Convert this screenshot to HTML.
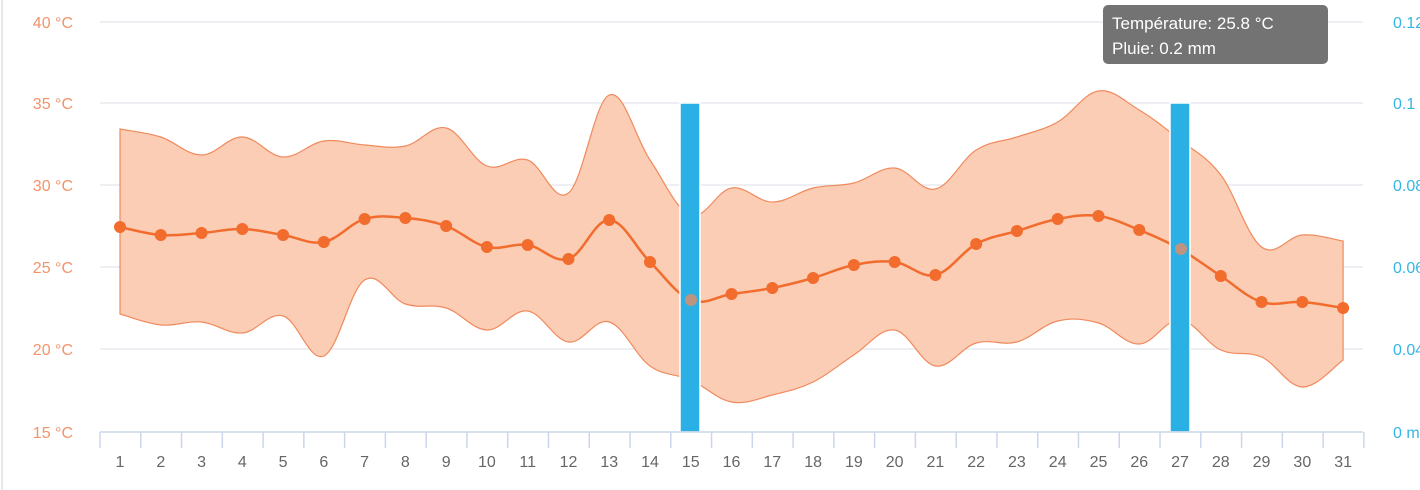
<!DOCTYPE html>
<html><head><meta charset="utf-8"><style>
html,body{margin:0;padding:0;background:#fff;width:1420px;height:490px;overflow:hidden;font-family:"Liberation Sans",sans-serif}
</style></head><body>
<svg id="s" width="1420" height="490" xmlns="http://www.w3.org/2000/svg" style="position:absolute;left:0;top:0">
<line x1="2" y1="0" x2="2" y2="490" stroke="#e6e8ec" stroke-width="2"/>
<g id="grid" stroke="#e8eaef" stroke-width="1.5"></g>
<path id="band" fill="#fbcdb5" stroke="#f08a5d" stroke-width="1.2"/>
<path id="mean" fill="none" stroke="#f26c2e" stroke-width="2.5"/>
<g id="dots" fill="#f26c2e"></g>
<rect x="680" y="103" width="20" height="329" fill="#2ab0e4" stroke="#fff" stroke-width="1.5"/>
<rect x="1170" y="103" width="20" height="329" fill="#2ab0e4" stroke="#fff" stroke-width="1.5"/>
<circle cx="691" cy="300" r="6" fill="#f08a5d" opacity="0.75"/>
<circle cx="1181" cy="249" r="6" fill="#f08a5d" opacity="0.75"/>
<g id="axis" stroke="#ccd6eb" stroke-width="1.5"></g>
<g id="lbl" font-size="16" fill="#666" text-anchor="middle"></g>
<g id="yl" font-size="16" fill="#f3936a" text-anchor="end"></g>
<g id="yr" font-size="16" fill="#35b5e5"></g>
<rect x="1103" y="5" width="225" height="59" rx="5" fill="#737373"/>
<text x="1112" y="29" font-size="17" fill="#fff">Température: 25.8 °C</text>
<text x="1112" y="54" font-size="17" fill="#fff">Pluie: 0.2 mm</text>
</svg>
<script>
var X=function(d){return 120+(d-1)*40.77;};
var mean=[227,235,233,229,235,242,219,218,226,247,245,259,220,262,300,294,288,278,265,262,275,244,231,219,216,230,249,276,302,302,308];
var up=[129,137,155,137,157,141,145,146,128,166,160,193,95,160,215,188,202,188,183,168,189,150,137,122,91,110,140,175,247,235,241];
var lo=[314,325,322,333,316,356,280,304,308,330,311,342,322,366,380,402,395,382,355,330,366,343,342,321,323,344,320,350,357,387,360];
function pts(a){return a.map(function(v,i){return [X(i+1),v];});}
function curve(p,move){var s=move?"M"+p[0][0]+","+p[0][1]:"L"+p[0][0]+","+p[0][1];
for(var i=0;i<p.length-1;i++){var p0=p[i-1]||p[i],p1=p[i],p2=p[i+1],p3=p[i+2]||p2;
var t=0.18;s+=" C"+(p1[0]+(p2[0]-p0[0])*t)+","+(p1[1]+(p2[1]-p0[1])*t)+" "+(p2[0]-(p3[0]-p1[0])*t)+","+(p2[1]-(p3[1]-p1[1])*t)+" "+p2[0]+","+p2[1];}return s;}
var U=pts(up),L=pts(lo).reverse();
document.getElementById("band").setAttribute("d",curve(U,true)+" "+curve(L,false)+" Z");
var M=pts(mean);document.getElementById("mean").setAttribute("d",curve(M,true));
var ns="http://www.w3.org/2000/svg";function el(g,t,a,tx){var e=document.createElementNS(ns,t);for(var k in a)e.setAttribute(k,a[k]);if(tx)e.textContent=tx;document.getElementById(g).appendChild(e);}
M.forEach(function(p){el("dots","circle",{cx:p[0],cy:p[1],r:6});});
var ys=[22,103,185,267,349];ys.forEach(function(y){el("grid","line",{x1:100,x2:1363,y1:y,y2:y});});
el("axis","line",{x1:100,x2:1363,y1:432,y2:432});
for(var i=0;i<=31;i++){var x=100+i*40.77;el("axis","line",{x1:x,x2:x,y1:432,y2:448});}
for(var d=1;d<=31;d++)el("lbl","text",{x:X(d),y:467},String(d));
var yv=["40 °C","35 °C","30 °C","25 °C","20 °C","15 °C"],yy=[22,103,185,267,349,432];
var rv=["0.12 mm","0.1 mm","0.08 mm","0.06 mm","0.04 mm","0 mm"];
yy.forEach(function(y,i){el("yl","text",{x:73,y:y+6},yv[i]);el("yr","text",{x:1393,y:y+6},rv[i]);});
</script>
</body></html>
